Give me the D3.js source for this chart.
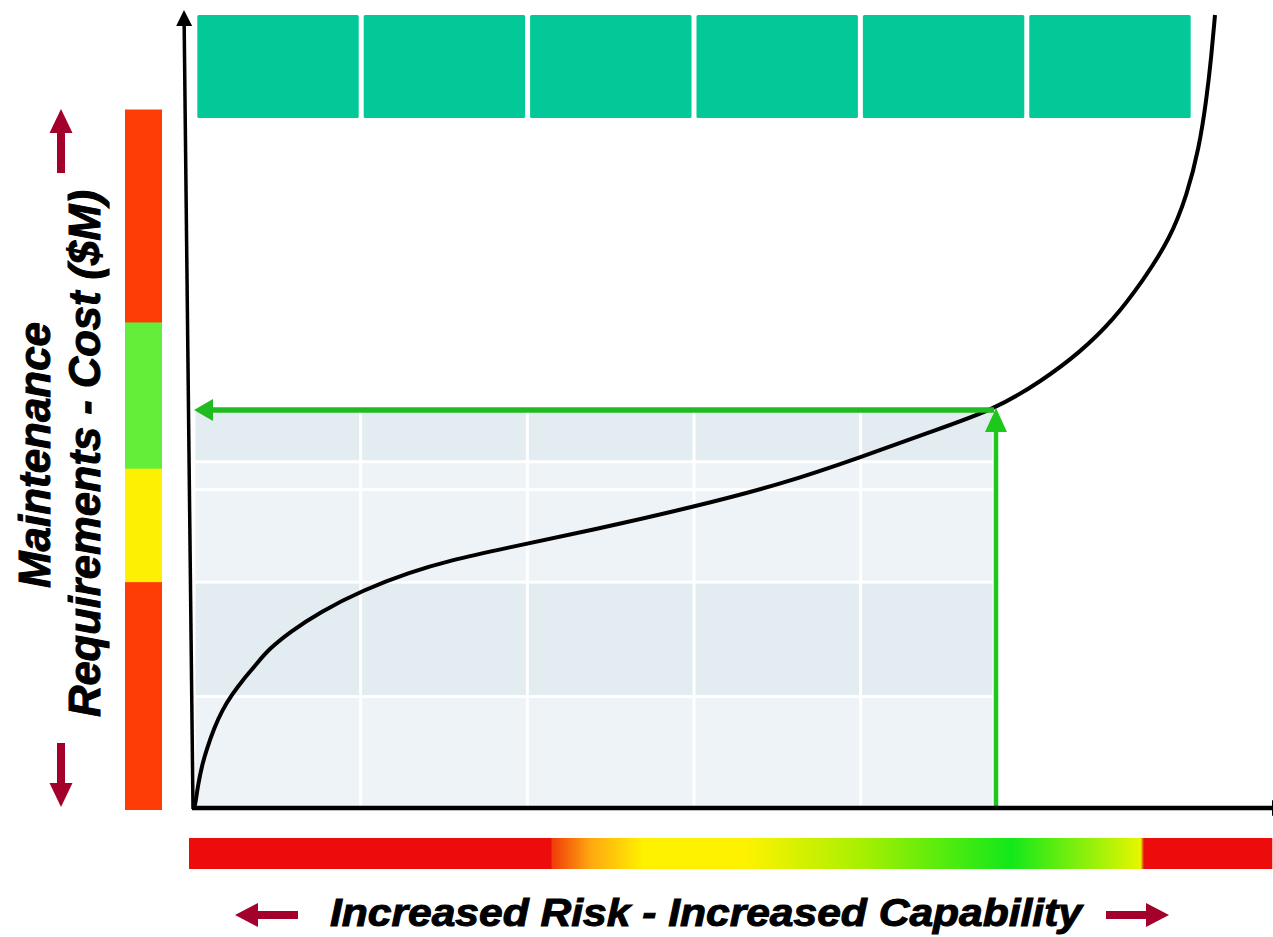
<!DOCTYPE html>
<html>
<head>
<meta charset="utf-8">
<script src="https://cdn.jsdelivr.net/npm/d3@7.9.0/dist/d3.min.js"></script>
<style>
  body { margin: 0; background: #fff; }
  svg { display: block; font-family: 'Liberation Sans', Arial, sans-serif; }
</style>
</head>
<body>
<div id="chart"></div>
<script>
// capability (x) vs maintenance cost (y)
const curveX = [0, 0.006, 0.024, 0.048, 0.078, 0.12, 0.168, 0.228, 0.294, 0.372, 0.444, 0.576, 0.756,
  1.014, 1.296, 1.542, 1.836, 2.436, 3.006, 3.516, 4.008, 4.416, 4.8, 5.094, 5.316, 5.514, 5.694,
  5.856, 5.958, 6.03, 6.075, 6.105, 6.126];
const curveY = [0, 0.02, 0.23, 0.43, 0.6, 0.8, 0.98, 1.14, 1.29, 1.44, 1.59, 1.77, 1.97,
  2.19, 2.37, 2.49, 2.6, 2.81, 3.03, 3.25, 3.53, 3.78, 4.0, 4.3, 4.58, 4.9, 5.3,
  5.72, 6.16, 6.63, 7.12, 7.57, 7.97];

// selected operating point
const opX = 4.8;
const opY = 4.0;

// capability columns (teal blocks on top)
const columns = ['c1', 'c2', 'c3', 'c4', 'c5', 'c6'];

// shaded area under the operating point
const shadeRowBounds = [0, 1.12, 2.27, 3.2, 3.48, opY];
const shadeRowTone = ['light', 'dark', 'light', 'light', 'dark'];
const shadeColBounds = [0, 1, 2, 3, 4, opX];

// cost zones on the left bar
const costZoneBounds = [0, 2.29, 3.43, 4.9, 7.02];
const costZoneKind = ['bad', 'warn', 'good', 'bad'];

// capability ramp under the x axis
const rampStops = [-0.03, 2.14, 2.15, 2.38, 2.7, 3.3, 4.0, 4.9, 5.68, 5.7, 6.47];
const rampKind = ['red', 'red', 'redorange', 'orange', 'yellow', 'yellow', 'lime', 'green', 'yellowgreen', 'red', 'red'];

const zoneColor = { bad: '#fd3d05', warn: '#fdf000', good: '#64ee3a' };
const rampColor = {
  red: '#ec0c0c', redorange: '#f03c0a', orange: '#ffa810', yellow: '#fff200',
  lime: '#a8f000', green: '#12e81a', yellowgreen: '#e6f600'
};
const shadeColor = { light: '#eef3f7', dark: '#e3ecf0' };

const width = 1273;
const height = 937;

const svg = d3.select('#chart').append('svg')
  .attr('width', width)
  .attr('height', height);

const xScale = d3.scaleLinear().domain([0, 6]).range([194, 1194]);
const yScale = d3.scaleLinear().domain([0, 8]).range([808, 12]);

function arrow(g, x1, y1, x2, y2, color, w, headLen, headW) {
  const dx = x2 - x1, dy = y2 - y1;
  const len = Math.hypot(dx, dy);
  const ux = dx / len, uy = dy / len;
  const bx = x2 - ux * headLen, by = y2 - uy * headLen;
  g.append('line')
    .attr('x1', x1).attr('y1', y1)
    .attr('x2', bx + ux * 1).attr('y2', by + uy * 1)
    .attr('stroke', color).attr('stroke-width', w);
  g.append('path')
    .attr('d', `M${x2},${y2}L${bx - uy * headW / 2},${by + ux * headW / 2}L${bx + uy * headW / 2},${by - ux * headW / 2}Z`)
    .attr('fill', color);
}

// teal column blocks
const band = d3.scaleBand()
  .domain(columns)
  .range([xScale(0), xScale(6)])
  .paddingInner(0.03)
  .paddingOuter(0.02);

svg.append('g')
  .selectAll('rect')
  .data(columns)
  .join('rect')
  .attr('x', (d) => band(d))
  .attr('y', 15)
  .attr('width', band.bandwidth())
  .attr('height', 103)
  .attr('rx', 1.5)
  .attr('fill', '#03c897');

// shaded grid
const cells = [];
shadeRowTone.forEach((tone, r) => {
  for (let c = 0; c < shadeColBounds.length - 1; c++) {
    cells.push({ x0: shadeColBounds[c], x1: shadeColBounds[c + 1], y0: shadeRowBounds[r], y1: shadeRowBounds[r + 1], tone });
  }
});

svg.append('g')
  .selectAll('rect')
  .data(cells)
  .join('rect')
  .attr('x', (d) => xScale(d.x0) + 1.5)
  .attr('y', (d) => yScale(d.y1) + 1.5)
  .attr('width', (d) => xScale(d.x1) - xScale(d.x0) - 3)
  .attr('height', (d) => yScale(d.y0) - yScale(d.y1) - 3)
  .attr('fill', (d) => shadeColor[d.tone]);

// left cost bar
const costZones = costZoneKind.map((k, i) => ({ kind: k, y0: costZoneBounds[i], y1: costZoneBounds[i + 1] }));
svg.append('g')
  .selectAll('rect')
  .data(costZones)
  .join('rect')
  .attr('x', 125)
  .attr('y', (d) => yScale(d.y1))
  .attr('width', 37)
  .attr('height', (d) => yScale(d.y0) - yScale(d.y1) + 2)
  .attr('fill', (d) => zoneColor[d.kind]);

// bottom capability ramp
const grad = svg.append('defs').append('linearGradient')
  .attr('id', 'ramp')
  .attr('gradientUnits', 'userSpaceOnUse')
  .attr('x1', xScale(rampStops[0]))
  .attr('x2', xScale(rampStops[rampStops.length - 1]))
  .attr('y1', 0).attr('y2', 0);

const r0 = rampStops[0], r1 = rampStops[rampStops.length - 1];
grad.selectAll('stop')
  .data(rampStops)
  .join('stop')
  .attr('offset', (d) => (d - r0) / (r1 - r0))
  .attr('stop-color', (d, i) => rampColor[rampKind[i]]);

svg.append('rect')
  .attr('x', xScale(r0))
  .attr('y', 838)
  .attr('width', xScale(r1) - xScale(r0))
  .attr('height', 31)
  .attr('fill', 'url(#ramp)');

// curve
const line = d3.line()
  .x((d) => xScale(d[0]))
  .y((d) => yScale(d[1]))
  .curve(d3.curveBasis);

svg.append('path')
  .datum(curveX.map((x, i) => [x, curveY[i]]))
  .attr('d', line)
  .attr('fill', 'none')
  .attr('stroke', '#000')
  .attr('stroke-width', 4)
  .attr('stroke-linejoin', 'round');

// green guide arrows
const guides = svg.append('g');
arrow(guides, xScale(opX), yScale(opY), xScale(0), yScale(opY), '#20bb20', 5.5, 19, 22);
arrow(guides, xScale(opX) + 2, yScale(0), xScale(opX) + 2, yScale(opY) - 2, '#1cc81c', 4.5, 24, 22);

// axes
const axes = svg.append('g');
arrow(axes, xScale(0) - 1, yScale(0) + 1, xScale(0) - 10, 10, '#000', 3.5, 16, 16);
arrow(axes, xScale(0) - 2, yScale(0), 1288, yScale(0), '#000', 4.5, 16, 16);

// dark red direction arrows
const dirs = svg.append('g');
const dark = '#a3002b';
arrow(dirs, 61, 173, 61, 109, dark, 8, 24, 23);
arrow(dirs, 61, 743, 61, 807, dark, 8, 24, 23);
arrow(dirs, 298, 915, 235, 915, dark, 8, 23, 24);
arrow(dirs, 1106, 915, 1169, 915, dark, 8, 23, 24);

// labels
const labelStyle = (t) => t
  .attr('text-anchor', 'middle')
  .attr('font-weight', 'bold')
  .attr('font-style', 'italic')
  .attr('fill', '#000')
  .attr('stroke', '#000')
  .attr('stroke-width', 1)
  .attr('lengthAdjust', 'spacingAndGlyphs');

svg.append('text')
  .attr('transform', 'translate(50,455) rotate(-90)')
  .attr('font-size', 44)
  .attr('textLength', 266)
  .call(labelStyle)
  .text('Maintenance');

svg.append('text')
  .attr('transform', 'translate(100,453.5) rotate(-90)')
  .attr('font-size', 44)
  .attr('textLength', 527)
  .call(labelStyle)
  .text('Requirements - Cost ($M)');

svg.append('text')
  .attr('x', 706)
  .attr('y', 926)
  .attr('font-size', 38)
  .attr('textLength', 752)
  .call(labelStyle)
  .text('Increased Risk - Increased Capability');
</script>
</body>
</html>
